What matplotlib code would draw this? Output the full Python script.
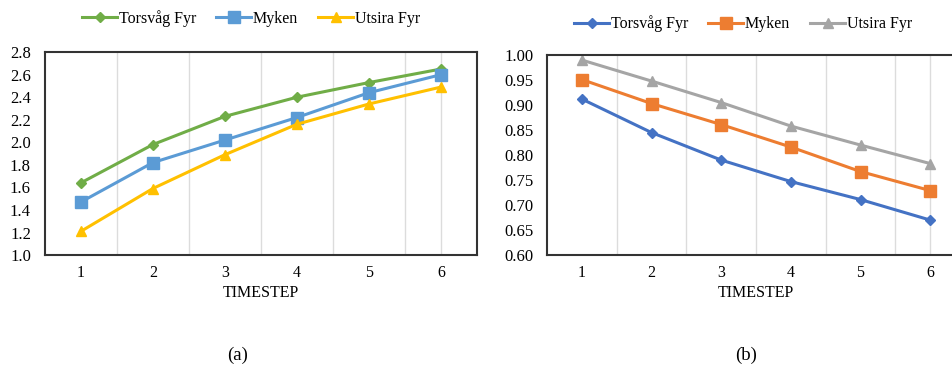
import matplotlib
matplotlib.use('Agg')
import matplotlib.pyplot as plt

plt.rcParams['font.family'] = ['Liberation Serif', 'DejaVu Serif']

timestep = [1, 2, 3, 4, 5, 6]
series_names = ['Torsvåg Fyr', 'Myken', 'Utsira Fyr']

# panel (a)
a_torsvag = [1.64, 1.98, 2.23, 2.40, 2.53, 2.65]
a_myken = [1.47, 1.82, 2.02, 2.22, 2.44, 2.60]
a_utsira = [1.21, 1.59, 1.89, 2.16, 2.34, 2.49]

# panel (b)
b_torsvag = [0.912, 0.845, 0.790, 0.747, 0.711, 0.670]
b_myken = [0.951, 0.903, 0.861, 0.816, 0.767, 0.729]
b_utsira = [0.990, 0.948, 0.905, 0.858, 0.820, 0.783]

markers = ['D', 's', '^']
msizes = [5, 8, 7]
colors_a = ['#70AD47', '#5B9BD5', '#FFC000']
colors_b = ['#4472C4', '#ED7D31', '#A5A5A5']


def panel(ax, data, colors, ylim, yticks, fmt, leg_x, leg_y):
    for vals, name, m, ms, c in zip(data, series_names, markers, msizes, colors):
        ax.plot(timestep, vals, color=c, lw=2.2, marker=m, ms=ms, label=name)
    ax.set_xlim(0.5, 6.5)
    ax.set_ylim(*ylim)
    ax.set_yticks(yticks)
    ax.set_yticklabels([fmt % v for v in yticks], fontsize=12)
    ax.set_xticks(timestep)
    ax.set_xticklabels([str(t) for t in timestep], fontsize=11.5)
    for g in [1.5, 2.5, 3.5, 4.5, 5.5, 6]:
        ax.axvline(g, color='#DCDCDC', lw=1, zorder=0)
    ax.tick_params(axis='y', length=0, pad=10)
    ax.tick_params(axis='x', length=0, pad=7)
    for s in ax.spines.values():
        s.set_linewidth(1.5)
        s.set_color('#333333')
    ax.set_xlabel('TIMESTEP', fontsize=11.5, labelpad=3)
    ax.legend(loc='center', bbox_to_anchor=(leg_x, leg_y), ncol=3, frameon=False,
              fontsize=11.5, handlelength=2.2, handletextpad=0.1, columnspacing=1.25)


fig = plt.figure(figsize=(9.53, 3.67), dpi=100)
ax1 = fig.add_axes([0.047, 0.305, 0.4535, 0.553])
ax2 = fig.add_axes([0.574, 0.305, 0.4386, 0.545])

panel(ax1, [a_torsvag, a_myken, a_utsira], colors_a, (1.0, 2.8),
      [1.0, 1.2, 1.4, 1.6, 1.8, 2.0, 2.2, 2.4, 2.6, 2.8], '%.1f', 0.477, 1.165)
panel(ax2, [b_torsvag, b_myken, b_utsira], colors_b, (0.6, 1.0),
      [0.60, 0.65, 0.70, 0.75, 0.80, 0.85, 0.90, 0.95, 1.00], '%.2f', 0.469, 1.155)

fig.text(0.249, 0.018, '(a)', fontsize=13.5, ha='center')
fig.text(0.783, 0.018, '(b)', fontsize=13.5, ha='center')

fig.savefig('out.png', dpi=100)
